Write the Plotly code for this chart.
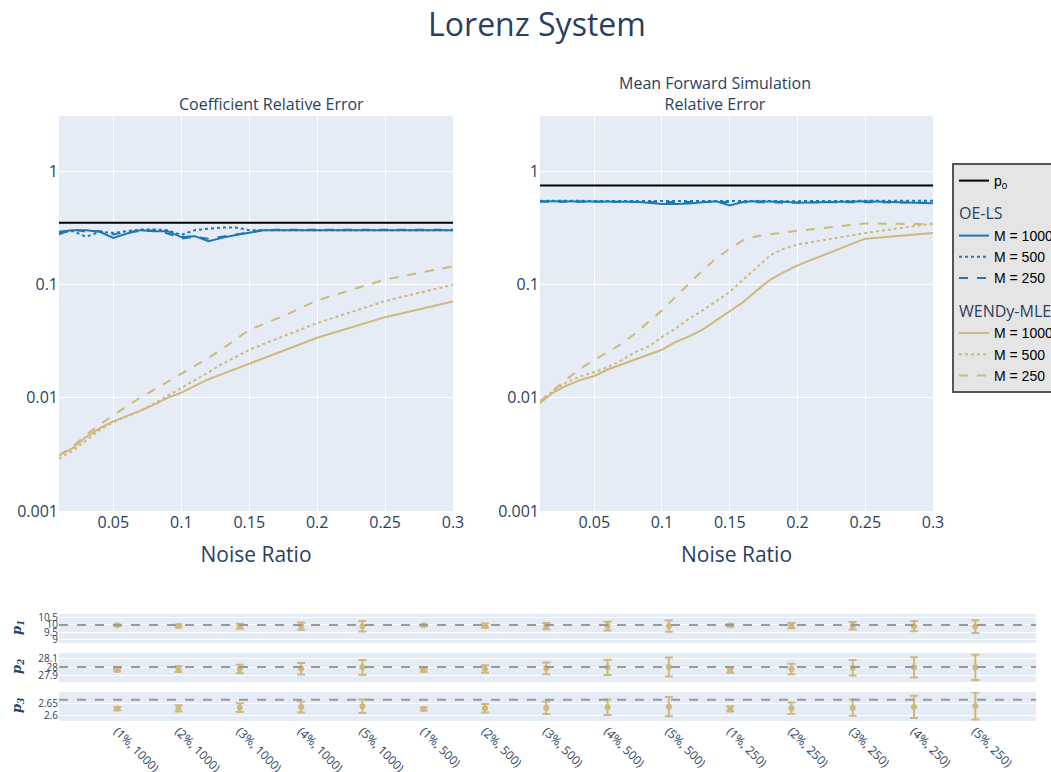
import plotly.graph_objects as go

# ---------------- data ----------------
noise = [0.01, 0.02, 0.03, 0.04, 0.05, 0.06, 0.07, 0.08, 0.09, 0.10,
         0.11, 0.12, 0.13, 0.14, 0.15, 0.16, 0.17, 0.18, 0.19, 0.20, 0.25, 0.30]

p0_coef = 0.352
p0_fwd = 0.75

# Coefficient relative error
oe_coef_1000 = [0.293, 0.303, 0.303, 0.293, 0.259, 0.283, 0.303, 0.297, 0.297, 0.263, 0.268,
                0.242, 0.259, 0.275, 0.287, 0.303, 0.303, 0.303, 0.303, 0.303, 0.303, 0.303]
oe_coef_500 = [0.290, 0.297, 0.265, 0.293, 0.287, 0.297, 0.307, 0.307, 0.303, 0.275, 0.303,
               0.312, 0.320, 0.320, 0.303, 0.303, 0.303, 0.303, 0.303, 0.303, 0.303, 0.303]
oe_coef_250 = [0.278, 0.307, 0.293, 0.297, 0.278, 0.293, 0.297, 0.303, 0.283, 0.255, 0.265,
               0.255, 0.265, 0.278, 0.290, 0.303, 0.305, 0.305, 0.305, 0.305, 0.305, 0.305]
wm_coef_1000 = [0.0031, 0.0036, 0.0045, 0.0054, 0.0062, 0.0069, 0.0077, 0.0087, 0.0100, 0.0111, 0.0127,
                0.0146, 0.0162, 0.0180, 0.0199, 0.0221, 0.0245, 0.0272, 0.0304, 0.0339, 0.0516, 0.0711]
wm_coef_500 = [0.0029, 0.0034, 0.0042, 0.0052, 0.0061, 0.0068, 0.0077, 0.0089, 0.0104, 0.0122, 0.0142,
               0.0168, 0.0199, 0.0231, 0.0265, 0.0297, 0.0330, 0.0368, 0.0410, 0.0457, 0.0716, 0.1000]
wm_coef_250 = [0.0031, 0.0037, 0.0047, 0.0058, 0.0070, 0.0084, 0.0101, 0.0118, 0.0139, 0.0162, 0.0190,
               0.0225, 0.0270, 0.0330, 0.0398, 0.0445, 0.0500, 0.0560, 0.0640, 0.0726, 0.1110, 0.1450]

# Mean forward simulation relative error
oe_fwd_1000 = [0.545, 0.545, 0.543, 0.545, 0.540, 0.543, 0.545, 0.540, 0.530, 0.515, 0.515,
               0.520, 0.535, 0.545, 0.500, 0.540, 0.545, 0.545, 0.540, 0.530, 0.545, 0.525]
oe_fwd_500 = [0.550, 0.550, 0.548, 0.550, 0.548, 0.550, 0.550, 0.552, 0.553, 0.555, 0.555,
              0.553, 0.550, 0.548, 0.548, 0.550, 0.550, 0.548, 0.546, 0.548, 0.550, 0.552]
oe_fwd_250 = [0.540, 0.540, 0.538, 0.540, 0.535, 0.540, 0.540, 0.538, 0.536, 0.535, 0.538,
              0.540, 0.540, 0.538, 0.535, 0.540, 0.540, 0.535, 0.530, 0.533, 0.535, 0.530]
wm_fwd_1000 = [0.0090, 0.0112, 0.0129, 0.0144, 0.0156, 0.0178, 0.0197, 0.0217, 0.0240, 0.0266, 0.0311,
               0.0349, 0.0400, 0.0483, 0.0584, 0.0703, 0.0890, 0.1110, 0.1290, 0.1480, 0.2550, 0.2860]
wm_fwd_500 = [0.0093, 0.0116, 0.0138, 0.0155, 0.0169, 0.0187, 0.0214, 0.0253, 0.0284, 0.0344, 0.0408,
              0.0500, 0.0593, 0.0717, 0.0861, 0.1110, 0.1430, 0.1820, 0.2080, 0.2260, 0.2860, 0.3470]
wm_fwd_250 = [0.0093, 0.0118, 0.0147, 0.0181, 0.0217, 0.0253, 0.0300, 0.0368, 0.0468, 0.0593, 0.0778,
              0.1020, 0.1340, 0.1700, 0.2080, 0.2470, 0.2680, 0.2790, 0.2890, 0.2990, 0.3470, 0.3420]

# Parameter estimates (noise %, M)
cats = ["(1%, 1000)", "(2%, 1000)", "(3%, 1000)", "(4%, 1000)", "(5%, 1000)",
        "(1%, 500)", "(2%, 500)", "(3%, 500)", "(4%, 500)", "(5%, 500)",
        "(1%, 250)", "(2%, 250)", "(3%, 250)", "(4%, 250)", "(5%, 250)"]
true_vals = [10.0, 28.0, 2.6667]
p1_mean = [9.97, 9.93, 9.91, 9.92, 9.91, 9.97, 9.95, 9.92, 9.92, 9.92, 9.97, 9.95, 9.94, 9.91, 9.89]
p1_err = [0.05, 0.10, 0.17, 0.24, 0.35, 0.06, 0.14, 0.21, 0.29, 0.37, 0.09, 0.18, 0.25, 0.34, 0.42]
p2_mean = [27.965, 27.977, 27.977, 27.980, 27.996, 27.962, 27.977, 27.985, 27.996, 28.000,
           27.965, 27.977, 27.992, 27.996, 27.996]
p2_err = [0.017, 0.035, 0.048, 0.065, 0.084, 0.018, 0.044, 0.067, 0.088, 0.110,
          0.030, 0.060, 0.088, 0.117, 0.146]
p3_mean = [2.6300, 2.6315, 2.6340, 2.6370, 2.6397, 2.6286, 2.6315, 2.6340, 2.6355, 2.6380,
           2.6286, 2.6315, 2.6340, 2.6370, 2.6413]
p3_err = [0.0064, 0.013, 0.018, 0.023, 0.028, 0.0064, 0.018, 0.026, 0.032, 0.040,
          0.011, 0.024, 0.034, 0.046, 0.056]

# ---------------- style / layout helpers ----------------
BLUE = "#1f77b4"
GOLD = "#CFB87C"
DASHES = {"1000": "solid", "500": "dot", "250": "dash"}

W, H = 1051, 772
OFF = 0            # page body margin removed below, figure fills the window
ML, MR = 59, 5
PW = W - ML - MR
fx = lambda sx: (sx - OFF - ML) / PW          # screen px -> paper x
fy = lambda sy: 1 - (sy - OFF) / H            # screen px -> paper y

fig = go.Figure()

def add_set(xa, ya, p0, oe, wm, show):
    fig.add_trace(go.Scatter(x=[noise[0], noise[-1]], y=[p0, p0], mode="lines",
                             line=dict(color="black", width=2), name="p<sub>0</sub>",
                             legendgroup="p0", showlegend=show, xaxis=xa, yaxis=ya))
    for (m, ys) in zip(["1000", "500", "250"], oe):
        fig.add_trace(go.Scatter(x=noise, y=ys, mode="lines",
                                 line=dict(color=BLUE, width=2, dash=DASHES[m]),
                                 name=f"M = {m}", legendgroup="OE",
                                 legendgrouptitle_text="OE-LS",
                                 showlegend=show, xaxis=xa, yaxis=ya))
    for (m, ys) in zip(["1000", "500", "250"], wm):
        fig.add_trace(go.Scatter(x=noise, y=ys, mode="lines",
                                 line=dict(color=GOLD, width=2, dash=DASHES[m]),
                                 name=f"M = {m}", legendgroup="WM",
                                 legendgrouptitle_text="WENDy-MLE",
                                 showlegend=show, xaxis=xa, yaxis=ya))

add_set("x", "y", p0_coef, [oe_coef_1000, oe_coef_500, oe_coef_250],
        [wm_coef_1000, wm_coef_500, wm_coef_250], True)
add_set("x2", "y2", p0_fwd, [oe_fwd_1000, oe_fwd_500, oe_fwd_250],
        [wm_fwd_1000, wm_fwd_500, wm_fwd_250], False)

for i, (mean, err) in enumerate([(p1_mean, p1_err), (p2_mean, p2_err), (p3_mean, p3_err)]):
    ax = str(i + 3)
    fig.add_shape(type="line", x0=0, x1=1, y0=true_vals[i], y1=true_vals[i],
                  xref="x" + ax + " domain", yref="y" + ax, layer="above",
                  line=dict(color="#999999", width=2, dash="dash"))
    fig.add_trace(go.Scatter(x=cats, y=mean, mode="markers",
                             marker=dict(color=GOLD, size=6),
                             error_y=dict(type="data", array=err, color=GOLD, thickness=2, width=4),
                             showlegend=False, xaxis="x" + ax, yaxis="y" + ax))

axis_font = dict(size=16)
top_x = dict(range=[0.01, 0.3], dtick=0.05, tick0=0, tickfont=axis_font,
             title=dict(text="Noise Ratio", font=dict(size=21)), gridcolor="white")
top_y = dict(type="log", range=[-3, 0.49], dtick=1, tickfont=axis_font, gridcolor="white")

y_dom_top = [fy(511), fy(116)]
bot_x = dict(type="category", range=[-0.95, 14.99], showgrid=False, domain=[0, fx(1036)])

fig.update_layout(
    width=W, height=H,
    margin=dict(l=ML, r=MR, t=0, b=0, autoexpand=False),
    title=dict(text="Lorenz System", x=(537 - OFF) / W, xanchor="center",
               y=1 - (25 - OFF) / H, yanchor="middle", yref="container",
               font=dict(size=32, color="#2a3f5f")),
    xaxis=dict(domain=[0, fx(453)], anchor="y", **top_x),
    yaxis=dict(domain=y_dom_top, anchor="x", **top_y),
    xaxis2=dict(domain=[fx(540), fx(933)], anchor="y2", **top_x),
    yaxis2=dict(domain=y_dom_top, anchor="x2", **top_y),
    xaxis3=dict(anchor="y3", showticklabels=False, **bot_x),
    yaxis3=dict(domain=[fy(643), fy(614)], anchor="x3",
                range=[8.8, 10.72], dtick=0.5, tickfont=dict(size=10)),
    xaxis4=dict(anchor="y4", showticklabels=False, **bot_x),
    yaxis4=dict(domain=[fy(682), fy(653)], anchor="x4",
                range=[27.828, 28.161], dtick=0.1, tickfont=dict(size=10)),
    xaxis5=dict(anchor="y5", tickangle=45, tickfont=dict(size=12), **bot_x),
    yaxis5=dict(domain=[fy(721), fy(692)], anchor="x5",
                range=[2.5786, 2.699], dtick=0.05, tickfont=dict(size=10)),
    legend=dict(x=fx(952), xanchor="left", y=fy(163), yanchor="top",
                bgcolor="#e5e5e5", bordercolor="#555555", borderwidth=2,
                font=dict(family="Arial", size=14, color="black"),
                grouptitlefont=dict(size=16, color="#2a3f5f"),
                traceorder="grouped", tracegroupgap=10),
)

annots = [
    dict(text="Coefficient Relative Error", x=fx(271), y=fy(104)),
    dict(text="Mean Forward Simulation<br>Relative Error", x=fx(715), y=fy(94)),
]
for a in annots:
    fig.add_annotation(xref="paper", yref="paper", showarrow=False, xanchor="center",
                       yanchor="middle", font=dict(size=16, color="#2a3f5f"), **a)

for lbl, yc in [("p<sub>1</sub>", 628), ("p<sub>2</sub>", 667), ("p<sub>3</sub>", 706)]:
    fig.add_annotation(xref="paper", yref="paper", x=fx(17), y=fy(yc),
                       text=f"<b><i>{lbl}</i></b>", showarrow=False, textangle=-90,
                       xanchor="center", yanchor="middle",
                       font=dict(family="DejaVu Serif", size=13, color="#2a3f5f"))

fig.write_html("out.html", config={"displayModeBar": False},
               post_script="document.body.style.margin='0';document.body.style.overflow='hidden';")
